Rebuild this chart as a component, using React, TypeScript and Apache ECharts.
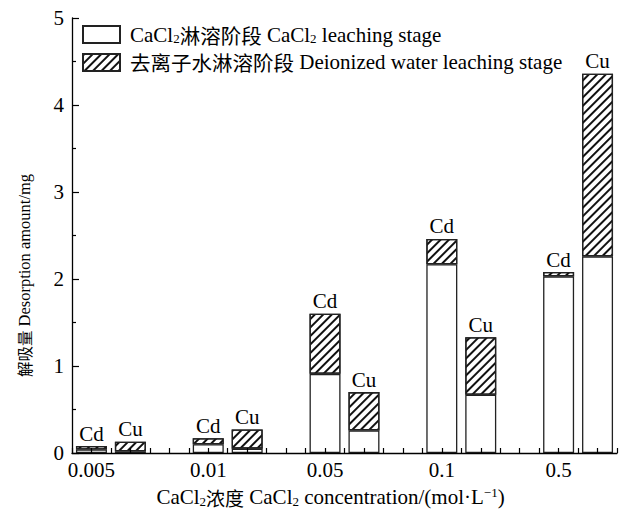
import React, { useEffect, useRef } from "react";
import * as echarts from "echarts";

const categories = ["0.005", "0.01", "0.05", "0.1", "0.5"];
const elements = ["Cd", "Cu"];
const cdCaCl2 = [0.04, 0.10, 0.91, 2.17, 2.03];
const cdWater = [0.04, 0.07, 0.69, 0.29, 0.05];
const cuCaCl2 = [0.02, 0.05, 0.26, 0.67, 2.26];
const cuWater = [0.11, 0.22, 0.44, 0.66, 2.10];
const yMin = 0;
const yMax = 5;

const FONT = "'Liberation Serif', 'Times New Roman', 'Noto Sans CJK SC', serif";
const CJK = "'Noto Sans CJK SC', sans-serif";

export default function App() {
  const ref = useRef<HTMLDivElement>(null);
  useEffect(() => {
    if (!ref.current) return;
    const chart = echarts.init(ref.current, null, { renderer: "svg" });
    // slot layout on the x axis: each concentration takes 6 slots, Cd at +1, Cu at +3
    const SLOTS = 29;
    const pos = (ci: number, ei: number) => ci * 6 + 1 + ei * 2;
    const slots = Array.from({ length: SLOTS }, (_, i) => String(i));
    const bottomData: any[] = slots.map(() => "-");
    const topData: any[] = slots.map(() => "-");
    const labelMap: Record<string, string> = {};
    const elemMap: Record<string, string> = {};
    categories.forEach((c, ci) => {
      labelMap[String(pos(ci, 0))] = c;
      bottomData[pos(ci, 0)] = cdCaCl2[ci];
      bottomData[pos(ci, 1)] = cuCaCl2[ci];
      topData[pos(ci, 0)] = cdWater[ci];
      topData[pos(ci, 1)] = cuWater[ci];
      elemMap[String(pos(ci, 0))] = elements[0];
      elemMap[String(pos(ci, 1))] = elements[1];
    });
    const hatch = {
      color: "#111",
      backgroundColor: "#fff",
      dashArrayX: [1, 0],
      dashArrayY: [1.1, 3.4],
      symbolSize: 1,
      rotation: -Math.PI / 4,
    };
    const latin = (size: number) => ({ fontFamily: FONT, fontSize: size, color: "#000" });
    const cjk = (size: number) => ({ fontFamily: CJK, fontSize: size, color: "#000" });
    const option: any = {
      animation: false,
      backgroundColor: "#fff",
      textStyle: { fontFamily: FONT, color: "#000" },
      grid: { left: 72, top: 18, width: 545, height: 435, containLabel: false, outerBoundsMode: "none" },
      legend: {
        orient: "vertical",
        left: 82,
        top: 24,
        padding: 0,
        icon: "rect",
        itemWidth: 37,
        itemHeight: 17,
        itemGap: 7,
        selectedMode: false,
        textStyle: {
          fontFamily: FONT,
          fontSize: 21,
          color: "#000",
          padding: [0, 0, 0, 5],
          rich: {
            a: { ...latin(21), lineHeight: 21 },
            c: { ...cjk(20.5), lineHeight: 21 },
            s: { ...latin(13), lineHeight: 12, verticalAlign: "bottom" },
          },
        },
        formatter: (n: string) =>
          n === "CaCl2"
            ? "{a|CaCl}{s|2}{c|淋溶阶段}{a| CaCl}{s|2}{a| leaching stage}"
            : "{c|去离子水淋溶阶段}{a| Deionized water leaching stage}",
        data: ["CaCl2", "water"],
      },
      xAxis: {
        type: "category",
        data: slots,
        boundaryGap: false,
        z: 10,
        splitLine: { show: false },
        axisLine: { show: true, lineStyle: { color: "#000", width: 1.3 } },
        axisTick: { show: true, inside: true, length: 5, interval: 0, lineStyle: { color: "#000", width: 1.2 } },
        axisLabel: {
          ...latin(21),
          margin: 6,
          interval: 0,
          formatter: (v: string) => labelMap[v] || "",
        },
        name: "{a|CaCl}{s|2}{c|浓度}{a| CaCl}{s|2}{a| concentration/(mol·L}{p|−1}{a|)}",
        nameLocation: "middle",
        nameGap: 33,
        nameTextStyle: {
          ...latin(21),
          padding: [0, 28, 0, 0],
          rich: {
            a: { ...latin(21), lineHeight: 22 },
            c: { ...cjk(19), lineHeight: 22 },
            s: { ...latin(13), lineHeight: 12, verticalAlign: "bottom" },
            p: { ...latin(13), lineHeight: 12, verticalAlign: "top" },
          },
        },
      },
      yAxis: {
        type: "value",
        min: yMin,
        max: yMax,
        interval: 1,
        z: 10,
        splitLine: { show: false },
        axisLine: { show: true, lineStyle: { color: "#000", width: 1.3 } },
        axisTick: { show: true, inside: true, length: 7, lineStyle: { color: "#000", width: 1.2 } },
        minorTick: { show: true, splitNumber: 2, length: 4, lineStyle: { color: "#000", width: 1.2 } },
        axisLabel: { ...latin(21), margin: 8 },
        name: "{c|解吸量}{a| Desorption amount/mg}",
        nameLocation: "middle",
        nameGap: 39,
        nameTextStyle: {
          ...latin(16.5),
          padding: [0, 80, 0, 0],
          rich: {
            a: { ...latin(16.5), lineHeight: 18 },
            c: { ...cjk(15.5), lineHeight: 18 },
          },
        },
      },
      series: [
        {
          name: "CaCl2",
          type: "bar",
          stack: "total",
          barWidth: 31,
          data: bottomData,
          itemStyle: { color: "#fff", borderColor: "#222", borderWidth: 1.3 },
        },
        {
          name: "water",
          type: "bar",
          stack: "total",
          barWidth: 31,
          data: topData,
          itemStyle: { color: "#fff", borderColor: "#222", borderWidth: 1.3, decal: hatch },
          label: {
            show: true,
            position: "top",
            distance: 2,
            ...latin(21),
            formatter: (p: any) => elemMap[p.name] || "",
          },
        },
      ],
    };
    chart.setOption(option);
    return () => chart.dispose();
  }, []);
  return (
    <div
      ref={ref}
      style={{ position: "fixed", left: 0, top: 0, width: 619, height: 510, background: "#fff" }}
    />
  );
}
